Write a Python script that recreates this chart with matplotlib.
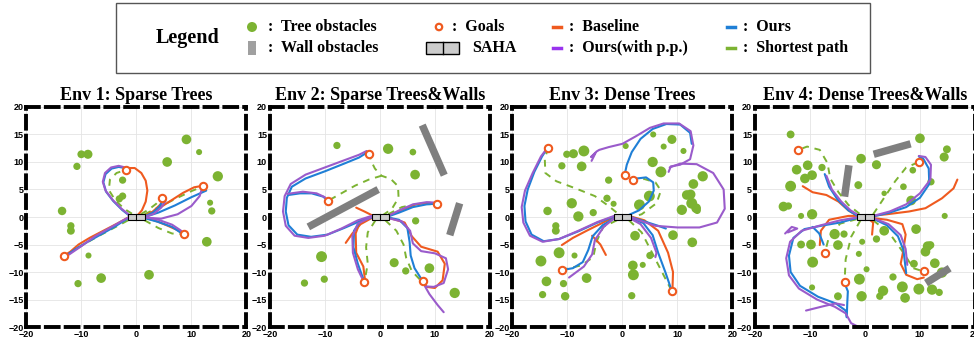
import numpy as np
import matplotlib
matplotlib.use("Agg")
import matplotlib.pyplot as plt
from matplotlib.patches import Circle, Rectangle, Polygon

# ---------------- data ----------------
titles = ["Env 1: Sparse Trees", "Env 2: Sparse Trees&Walls",
          "Env 3: Dense Trees", "Env 4: Dense Trees&Walls"]

# trees: (x, y, radius)
env1_trees = [(9.1, 14.1, 0.8), (11.4, 11.8, 0.5), (-10.0, 11.4, 0.65), (-8.8, 11.4, 0.75),
              (-10.8, 9.2, 0.6), (5.6, 10.0, 0.8), (14.8, 7.4, 0.85), (-2.5, 6.7, 0.6),
              (-2.5, 3.8, 0.6), (-3.1, 3.3, 0.6), (-13.5, 1.1, 0.7), (-11.9, -1.6, 0.6),
              (-11.9, -2.5, 0.65), (13.4, 2.6, 0.5), (13.7, 1.1, 0.6), (12.8, -4.5, 0.8),
              (-8.7, -7.0, 0.5), (-6.4, -11.1, 0.8), (2.3, -10.5, 0.8), (-10.6, -12.1, 0.6)]
env2_trees = [(-7.8, 13.0, 0.6), (1.5, 12.4, 0.85), (6.0, 11.8, 0.55), (6.4, 7.7, 0.8),
              (6.5, -0.7, 0.6), (-10.6, -7.2, 0.9), (2.6, -8.3, 0.75), (4.7, -9.8, 0.6),
              (9.0, -9.3, 0.8), (-10.1, -11.3, 0.6), (-13.7, -12.0, 0.6), (13.6, -13.8, 0.85)]
env3_trees = [(5.6, 15.0, 0.5), (9.0, 14.1, 0.75), (0.6, 12.9, 0.5), (7.5, 12.8, 0.5),
              (11.1, 12.0, 0.5), (-10.1, 11.4, 0.6), (-8.9, 11.5, 0.75), (-7.0, 12.0, 0.9),
              (-11.0, 9.3, 0.6), (-7.4, 9.2, 0.8), (5.5, 10.0, 0.85), (7.0, 8.2, 0.9),
              (12.9, 6.0, 0.8), (14.6, 7.4, 0.85), (-2.5, 6.7, 0.6), (4.9, 3.8, 0.9),
              (3.1, 2.2, 0.9), (11.7, 4.0, 0.8), (12.4, 4.1, 0.8), (12.6, 2.5, 0.9),
              (13.4, 1.6, 0.8), (10.8, 1.3, 0.85), (13.6, 1.2, 0.6), (-9.2, 2.5, 0.85),
              (-2.8, 3.4, 0.6), (-1.6, 2.4, 0.5), (-13.6, 1.1, 0.7), (-8.0, 0.1, 0.85),
              (-5.3, 0.8, 0.6), (-12.1, -1.6, 0.6), (-12.1, -2.5, 0.65), (2.3, -3.4, 0.8),
              (9.2, -3.3, 0.8), (12.7, -4.6, 0.8), (-11.5, -6.5, 0.9), (-8.7, -7.0, 0.5),
              (5.0, -7.0, 0.6), (-14.8, -8.0, 0.9), (1.9, -8.8, 0.8), (3.7, -8.7, 0.5),
              (2.0, -10.5, 0.9), (-6.5, -11.1, 0.8), (-13.8, -11.7, 0.8), (-10.7, -12.1, 0.6),
              (-14.5, -14.1, 0.6), (-10.4, -14.4, 0.7), (1.7, -14.3, 0.6)]
env4_trees = [(-13.5, 15.0, 0.65), (10.0, 14.3, 0.8), (14.9, 12.3, 0.65), (14.4, 10.9, 0.75),
              (-10.4, 9.4, 0.8), (-12.4, 8.6, 0.8), (-7.8, 9.0, 0.6), (-0.7, 10.6, 0.8),
              (2.1, 9.5, 0.75), (-9.6, 7.6, 0.8), (-10.9, 7.0, 0.8), (-13.5, 5.6, 0.9),
              (-1.2, 5.8, 0.65), (3.5, 4.3, 0.45), (7.0, 5.5, 0.55), (8.7, 8.5, 0.55),
              (12.0, 6.4, 0.6), (8.4, 3.0, 0.8), (-14.8, 1.9, 0.8), (-13.9, 2.0, 0.6),
              (-11.6, 0.2, 0.5), (-9.6, 0.5, 0.85), (14.5, 0.2, 0.5), (-5.5, -3.1, 0.85),
              (-3.8, -3.1, 0.6), (-4.9, -5.1, 0.8), (-11.6, -5.0, 0.65), (-9.8, -5.0, 0.8),
              (-9.5, -8.2, 0.9), (-0.5, -4.5, 0.5), (-1.1, -6.7, 0.5), (3.5, -2.5, 0.8),
              (2.1, -4.0, 0.6), (9.3, -2.2, 0.8), (11.4, -5.3, 0.8), (11.9, -5.1, 0.65),
              (11.0, -6.3, 0.8), (8.9, -8.5, 0.65), (12.7, -8.4, 0.8), (0.3, -9.5, 0.5),
              (-1.0, -11.3, 0.9), (5.1, -10.9, 0.6), (6.8, -12.7, 0.9), (9.8, -13.1, 0.9),
              (12.2, -13.2, 0.85), (3.3, -13.4, 0.85), (-0.6, -14.4, 0.85), (2.7, -14.4, 0.6),
              (7.3, -14.7, 0.8), (-4.9, -14.4, 0.65), (-9.6, -12.8, 0.5), (14.0, -10.1, 0.85),
              (13.5, -13.7, 0.6)]

# walls: (x1, y1, x2, y2, thickness)
env1_walls = []
env2_walls = [(-13.0, -1.8, -0.3, 5.0, 1.35), (7.7, 16.7, 11.7, 7.6, 1.35), (14.5, 2.5, 12.7, -3.3, 1.35)]
env3_walls = []
env4_walls = [(1.6, 11.4, 8.3, 13.3, 1.35), (-2.9, 9.4, -3.7, 3.7, 1.35), (11.1, -12.0, 15.4, -9.3, 1.35)]

env1_goals = [(-1.8, 8.6), (4.6, 3.5), (12.2, 5.6), (8.7, -3.1), (-13.1, -7.1)]
env2_goals = [(-1.9, 11.5), (-9.5, 2.9), (10.4, 2.3), (-2.8, -11.8), (7.9, -11.6)]
env3_goals = [(-13.5, 12.6), (0.4, 7.6), (1.9, 6.7), (-11.0, -9.6), (9.0, -13.5)]
env4_goals = [(-12.1, 12.2), (9.8, 10.0), (-7.3, -6.6), (-3.7, -11.9), (10.7, -9.9)]

# ---- env 1 paths ----
env1_shortest = [
    [(-0.8, 0.6), (-2.2, 1.5), (-3.8, 3.0), (-5.0, 4.9), (-4.8, 6.8), (-3.6, 8.0), (-1.8, 8.6)],
    [(0.8, 0.5), (2.3, 1.4), (3.6, 2.4), (4.6, 3.5)],
    [(1.5, 0.5), (4.5, 2.0), (7.5, 3.5), (10.0, 4.7), (12.2, 5.6)],
    [(1.5, -0.6), (4.0, -2.0), (6.5, -3.0), (8.7, -3.1)],
    [(-1.5, -0.6), (-4.5, -2.2), (-7.5, -3.8), (-10.5, -5.5), (-13.1, -7.1)]]
env1_baseline = [
    [(0.2, 0.3), (1.0, 1.2), (1.7, 2.8), (2.0, 4.8), (1.7, 6.6), (0.9, 8.0), (-0.3, 8.9), (-1.3, 8.9), (-1.8, 8.6)],
    [(1.5, 0.2), (3.0, 1.0), (4.3, 2.2), (5.1, 3.3)],
    [(1.5, 0.1), (3.5, 1.2), (6.0, 2.8), (8.5, 4.4), (10.5, 5.4), (12.2, 5.7)],
    [(1.5, -0.1), (3.5, -0.7), (5.5, -1.5), (7.3, -2.3), (8.5, -3.0)],
    [(-1.5, -0.1), (-3.5, -1.2), (-6.0, -2.5), (-8.5, -3.8), (-10.5, -5.0), (-12.0, -6.3), (-13.1, -7.0)]]
env1_ours = [
    [(-1.2, 0.2), (-2.6, 1.3), (-4.2, 2.9), (-5.5, 4.6), (-6.0, 6.3), (-5.6, 7.8), (-4.5, 8.8), (-3.2, 9.1), (-2.1, 8.9)],
    [(1.5, 0.1), (3.0, 0.8), (4.2, 1.9), (4.9, 3.1)],
    [(1.5, 0.0), (4.0, 0.8), (7.0, 2.1), (10.0, 3.6), (12.7, 4.8)],
    [(1.5, -0.2), (4.0, -0.9), (6.5, -1.8), (8.0, -2.8), (8.4, -3.2)],
    [(-1.5, -0.2), (-4.0, -1.8), (-6.5, -3.2), (-9.0, -4.6), (-11.3, -6.0), (-12.6, -6.9)]]
env1_ours_pp = [
    [(-1.2, 0.3), (-2.7, 1.5), (-4.3, 3.1), (-5.6, 4.8), (-6.1, 6.4), (-5.7, 8.0), (-4.6, 9.0), (-3.2, 9.3), (-2.0, 9.0)],
    [(1.5, 0.0), (3.2, 0.6), (4.5, 1.7), (5.3, 2.9)],
    [(1.5, -0.1), (4.5, -0.3), (7.5, 0.5), (10.0, 2.0), (11.5, 3.8), (11.9, 5.1)],
    [(1.5, 0.0), (4.0, -0.5), (6.5, -1.4), (8.0, -2.4), (8.6, -2.9)],
    [(-1.5, -0.1), (-4.5, -1.8), (-7.5, -3.5), (-10.0, -5.3), (-12.2, -6.8), (-13.0, -7.2)]]

# ---- env 2 paths ----
env2_shortest = [
    [(0.5, 0.3), (2.2, 1.5), (3.4, 3.5), (3.3, 5.6), (2.0, 6.9), (0.3, 7.5), (-0.9, 8.8), (-1.6, 10.2), (-1.9, 11.5)],
    [(0.3, 7.5), (-2.0, 6.8), (-4.5, 5.7), (-7.0, 4.3), (-9.5, 2.9)],
    [(1.5, 0.5), (4.0, 1.8), (7.0, 2.4), (10.4, 2.3)],
    [(1.0, -0.6), (3.0, -2.5), (4.3, -5.0), (4.8, -7.5), (5.8, -9.8), (7.5, -11.6)],
    [(-0.8, -0.6), (-2.2, -2.8), (-2.5, -5.5), (-2.2, -8.5), (-2.8, -11.8)]]
env2_baseline = [
    [(-1.4, 0.3), (-2.8, 1.0), (-4.3, 1.7)],
    [(-1.5, -0.2), (-3.5, -1.3), (-5.0, -3.0), (-6.2, -4.7)],
    [(1.5, 0.2), (4.0, 1.3), (6.5, 2.3), (9.0, 2.6), (10.4, 2.3)],
    [(-1.2, 0.0), (-3.5, -0.6), (-4.4, -3.0), (-4.3, -6.5), (-3.0, -9.0), (-2.7, -11.5)],
    [(1.5, -0.1), (4.5, -1.0), (5.8, -3.5), (7.5, -5.4), (10.5, -6.3), (11.8, -8.5), (11.4, -11.5),
     (10.0, -12.9), (8.5, -12.7), (7.9, -11.8)]]
env2_ours = [
    [(-1.5, 0.1), (-3.5, -0.7), (-6.5, -2.0), (-9.5, -3.2), (-12.5, -3.6), (-15.0, -3.2), (-16.6, -1.5),
     (-17.1, 1.0), (-16.9, 3.5), (-16.0, 5.5), (-13.5, 7.0), (-10.0, 8.3), (-6.5, 9.7), (-3.8, 10.8), (-2.2, 11.8)],
    [(-16.6, 4.0), (-14.5, 4.3), (-12.4, 4.3), (-10.3, 3.7), (-9.6, 3.1)],
    [(1.5, 0.1), (3.5, 0.8), (6.0, 1.8), (8.5, 2.3), (10.0, 2.4)],
    [(1.5, -0.1), (3.5, -0.5), (5.0, -2.0), (5.4, -4.5), (5.6, -7.0), (6.3, -9.3), (7.5, -11.2)],
    [(-1.5, -0.1), (-3.5, -0.7), (-4.7, -2.5), (-4.8, -5.5), (-4.0, -8.5), (-3.0, -11.3)]]
env2_ours_pp = [
    [(-1.5, 0.2), (-4.0, -0.6), (-7.0, -2.1), (-10.0, -3.4), (-13.0, -3.8), (-15.5, -3.4), (-17.1, -1.6),
     (-17.6, 1.0), (-17.3, 3.8), (-16.2, 6.0), (-13.5, 7.7), (-10.0, 9.0), (-6.5, 10.3), (-3.8, 11.3), (-2.4, 12.0)],
    [(-16.8, 4.2), (-14.0, 4.6), (-11.5, 4.3), (-10.0, 3.6), (-9.6, 3.0)],
    [(1.5, 0.2), (3.5, 1.2), (6.0, 2.3), (8.5, 2.7), (10.3, 2.6)],
    [(1.5, -0.2), (4.0, -0.8), (5.5, -2.5), (6.0, -4.8), (7.5, -6.2), (10.0, -6.6), (12.0, -7.5), (12.4, -9.5),
     (11.6, -12.0), (9.8, -12.7), (8.2, -12.6), (9.0, -14.0), (10.5, -16.0), (11.6, -17.3)],
    [(-1.5, 0.0), (-4.0, -1.2), (-5.0, -3.5), (-4.9, -6.5), (-4.0, -9.5), (-3.0, -11.6)]]

# ---- env 3 paths ----
env3_shortest = [
    [(-13.5, 12.6), (-14.1, 10.5), (-14.0, 8.0), (-12.0, 6.5), (-8.5, 5.2), (-5.0, 3.8), (-2.5, 2.0), (-0.8, 0.6)],
    [(0.8, -0.3), (3.5, 0.5), (6.2, 2.5), (7.0, 4.8), (6.0, 6.3), (4.0, 6.9), (1.9, 6.7)],
    [(-1.0, -0.6), (-3.5, -1.8), (-4.7, -4.5), (-5.3, -7.3), (-7.5, -8.8), (-11.0, -9.6)],
    [(1.2, -0.6), (3.5, -2.8), (5.4, -6.5), (7.2, -10.0), (9.0, -13.5)]]
env3_baseline = [
    [(-1.0, 0.2), (-3.5, -1.0), (-6.5, -2.5), (-9.0, -3.8), (-11.0, -5.1)],
    [(-5.5, -3.4), (-4.0, -5.0), (-3.0, -6.9)],
    [(-2.3, -0.3), (0.0, 0.3), (1.5, 0.1), (4.0, -0.6), (6.5, -2.5), (8.3, -6.5), (9.2, -10.0), (9.1, -13.2)]]
env3_ours = [
    [(-1.5, 0.1), (-4.5, -1.0), (-8.0, -2.6), (-11.5, -4.0), (-14.3, -4.4), (-16.5, -3.2), (-17.6, -0.8),
     (-17.8, 2.0), (-17.2, 5.0), (-16.0, 8.2), (-14.6, 11.0), (-13.7, 12.4)],
    [(0.4, 7.6), (0.8, 9.5), (1.7, 11.8), (3.3, 14.2), (5.5, 16.0), (8.0, 16.9), (10.5, 16.8), (12.3, 15.3), (12.6, 13.3)],
    [(0.8, 0.2), (3.0, 1.2), (4.8, 2.8), (5.7, 4.8), (5.6, 6.3), (4.3, 7.2), (2.6, 7.0)],
    [(1.5, 0.0), (4.0, -0.8), (6.5, -1.6), (7.9, -2.1)],
    [(-1.2, -0.1), (-3.6, -1.5), (-5.4, -3.5), (-6.2, -6.0), (-7.2, -8.2), (-9.0, -9.3), (-10.7, -9.6)],
    [(1.5, -0.2), (3.8, -1.1), (5.5, -3.3), (6.5, -6.5), (7.8, -10.0), (8.9, -13.2)]]
env3_ours_pp = [
    [(-1.5, 0.2), (-4.5, -0.9), (-8.0, -2.5), (-11.5, -4.0), (-14.5, -4.5), (-16.8, -3.4), (-18.0, -1.0),
     (-18.3, 1.8), (-17.7, 4.8), (-16.3, 8.0), (-14.8, 11.0), (-13.6, 12.6)],
    [(-5.6, 10.2), (-4.9, 11.6), (-5.7, 10.9), (-4.7, 11.9), (-4.2, 12.2), (-2.5, 12.7), (0.0, 13.3), (2.5, 14.7),
     (5.0, 16.2), (7.5, 17.0), (10.3, 17.0), (12.4, 15.6), (12.9, 13.0), (12.3, 10.5), (10.5, 9.5), (8.8, 9.2), (8.4, 8.2)],
    [(8.6, 9.0), (10.5, 9.7), (13.5, 9.6), (16.5, 8.0), (18.4, 5.0), (18.6, 1.5), (17.2, -1.0), (14.0, -1.9),
     (10.0, -1.9), (6.0, -1.6), (3.0, -0.6), (1.5, 0.0)],
    [(-1.2, 0.0), (-3.4, -1.8), (-5.0, -4.2), (-5.5, -6.8), (-7.0, -9.0), (-9.7, -11.0)],
    [(1.3, -0.2), (3.3, -1.3), (5.2, -3.8), (6.2, -6.5), (6.0, -7.3)]]

# ---- env 4 paths ----
env4_shortest = [
    [(-1.0, 0.6), (-3.0, 2.2), (-4.8, 4.5), (-6.3, 7.0), (-6.8, 9.8), (-8.2, 12.2), (-10.5, 12.8), (-12.1, 12.2)],
    [(1.5, 0.5), (3.5, 3.5), (5.5, 6.5), (7.5, 9.0), (9.8, 10.0)],
    [(-1.5, -0.4), (-4.5, -1.2), (-6.5, -3.5), (-7.3, -6.6)],
    [(-0.8, -0.6), (-2.5, -3.6), (-3.5, -7.7), (-3.7, -11.9)],
    [(1.5, -0.6), (4.5, -3.0), (7.0, -6.5), (8.8, -9.3), (10.7, -9.9)]]
env4_baseline = [
    [(-11.3, 5.6), (-9.5, 4.5), (-7.0, 4.0), (-4.8, 2.8), (-3.0, 1.2), (-1.5, 0.3), (1.0, 0.2), (4.0, 0.5),
     (8.0, 1.0), (11.0, 1.6), (14.0, 3.4), (16.1, 5.2), (16.8, 6.8)],
    [(-8.2, -5.1), (-8.0, -2.5), (-6.5, -0.5), (-3.0, 0.2), (0.0, 0.2), (1.5, -1.0), (1.3, -3.2)],
    [(1.5, -0.2), (4.0, -0.5), (6.8, -1.3), (7.4, -3.2), (6.9, -6.5), (6.5, -8.5), (7.5, -10.5), (9.5, -11.3), (10.7, -11.0)]]
env4_ours = [
    [(-7.3, 7.8), (-6.5, 5.5), (-5.0, 3.2), (-3.0, 1.2), (-1.5, 0.3)],
    [(1.5, 0.1), (4.5, 0.8), (7.5, 1.8), (10.0, 3.5), (11.7, 6.0), (11.6, 8.8), (10.6, 10.6), (9.8, 11.0)],
    [(1.5, -0.3), (4.0, -1.5), (6.0, -3.5), (7.0, -6.0), (7.3, -8.5), (7.5, -10.2)],
    [(-1.5, -0.2), (-4.5, -1.0), (-8.0, -1.6), (-11.0, -2.2), (-13.0, -3.8), (-13.8, -7.0), (-13.5, -10.0),
     (-11.8, -12.5), (-8.5, -14.5), (-5.3, -15.7), (-3.5, -17.0), (-3.3, -18.2)],
    [(-9.5, -1.8), (-8.3, -3.0), (-7.5, -5.0)],
    [(-3.3, -18.2), (-3.2, -15.5), (-3.1, -13.5), (-3.5, -12.5)]]
env4_ours_pp = [
    [(-7.0, 7.5), (-6.0, 5.0), (-4.3, 2.8), (-2.6, 1.2), (-1.3, 0.4)],
    [(1.5, 0.2), (4.5, 1.0), (7.5, 2.3), (10.0, 4.3), (11.9, 6.8), (12.0, 9.5), (11.0, 10.9), (9.8, 11.1)],
    [(1.5, -0.2), (4.3, -1.3), (6.5, -3.3), (7.4, -5.8), (7.7, -8.7)],
    [(-1.5, -0.1), (-4.5, -0.6), (-8.0, -1.5), (-11.5, -2.5), (-13.6, -4.5), (-14.3, -7.5), (-13.8, -10.6),
     (-12.0, -13.0), (-8.7, -15.0), (-5.5, -16.3), (-3.5, -17.5), (-2.5, -19.3), (-1.1, -20.0)],
    [(-14.5, -3.0), (-13.3, -1.8), (-12.3, -2.1), (-14.0, -2.8)],
    [(-10.7, -17.0), (-7.5, -16.2), (-5.3, -15.7), (-3.8, -16.0)]]

env_trees = [env1_trees, env2_trees, env3_trees, env4_trees]
env_walls = [env1_walls, env2_walls, env3_walls, env4_walls]
env_goals = [env1_goals, env2_goals, env3_goals, env4_goals]
env_shortest = [env1_shortest, env2_shortest, env3_shortest, env4_shortest]
env_baseline = [env1_baseline, env2_baseline, env3_baseline, env4_baseline]
env_ours = [env1_ours, env2_ours, env3_ours, env4_ours]
env_ours_pp = [env1_ours_pp, env2_ours_pp, env3_ours_pp, env4_ours_pp]

# ---------------- style ----------------
c_tree = '#7cb332'
c_wall = '#7f7f7f'
c_base = '#ef5a1f'
c_ours = '#1f7fd6'
c_pp = '#9a5bcb'
c_short = '#7cb332'
serif = ['Liberation Serif', 'DejaVu Serif']
sans = ['Liberation Sans', 'DejaVu Sans']

fig = plt.figure(figsize=(9.74, 3.45), dpi=100)
lefts = [0.027, 0.277, 0.526, 0.775]


def draw_lines(ax, paths, color, **kw):
    for p in paths:
        p = np.array(p)
        ax.plot(p[:, 0], p[:, 1], color=color, solid_capstyle='round',
                solid_joinstyle='round', **kw)


for i in range(4):
    ax = fig.add_axes([lefts[i], 0.052, 0.226, 0.638])
    ax.set_xlim(-20, 20)
    ax.set_ylim(-20, 20)
    ax.set_xticks([-20, -10, 0, 10, 20])
    ax.set_yticks(np.arange(-20, 21, 5))
    ax.grid(True, color='#e4e4e4', lw=0.6)
    ax.set_axisbelow(True)
    ax.tick_params(length=0, pad=2, labelsize=6.5)
    for lab in ax.get_xticklabels() + ax.get_yticklabels():
        lab.set_fontweight('bold')
        lab.set_family(sans)
    for s in ax.spines.values():
        s.set_linestyle((0, (3.3, 1.8)))
        s.set_linewidth(2.8)
        s.set_zorder(10)
    ax.set_title(titles[i], family=serif, fontweight='bold', fontsize=13, pad=5)

    for (x, y, r) in env_trees[i]:
        ax.add_patch(Circle((x, y), r * 1.1, color=c_tree, lw=0, zorder=2))
    for (x1, y1, x2, y2, w) in env_walls[i]:
        d = np.array([x2 - x1, y2 - y1])
        n = np.array([-d[1], d[0]]) / np.hypot(*d) * w / 2
        pts = [(x1 + n[0], y1 + n[1]), (x2 + n[0], y2 + n[1]),
               (x2 - n[0], y2 - n[1]), (x1 - n[0], y1 - n[1])]
        ax.add_patch(Polygon(pts, closed=True, color=c_wall, lw=0, zorder=2))

    draw_lines(ax, env_shortest[i], c_short, lw=1.4, ls=(0, (3.5, 3)), zorder=3)
    draw_lines(ax, env_baseline[i], c_base, lw=1.5, zorder=4)
    draw_lines(ax, env_ours[i], c_ours, lw=1.5, zorder=5)
    draw_lines(ax, env_ours_pp[i], c_pp, lw=1.5, zorder=6)

    g = np.array(env_goals[i])
    ax.scatter(g[:, 0], g[:, 1], s=28, facecolors='white', edgecolors=c_base,
               linewidths=1.5, zorder=8)
    ax.add_patch(Rectangle((-1.5, -0.6), 3.1, 1.15, fc='#cccccc', ec='k', lw=0.8, zorder=7))
    ax.plot([0, 0], [-0.6, 0.55], color='k', lw=0.8, zorder=7)

# ---------------- legend box (pixel coordinates overlay) ----------------
lg = fig.add_axes([0, 0, 1, 1])
lg.set_xlim(0, 974)
lg.set_ylim(345, 0)
lg.axis('off')
lg.add_patch(Rectangle((116, 3), 754, 70, fill=False, ec='#555555', lw=1.0))
lg.text(188, 38, 'Legend', family=serif, fontweight='bold', fontsize=14.5, ha='center', va='center')
r1, r2 = 27, 48
fs = 11.5
lg.add_patch(Circle((252, r1), 5, color=c_tree, lw=0))
lg.add_patch(Rectangle((248, r2 - 7), 8, 14, color='#a0a0a0', lw=0))
lg.text(268, r1, ':  Tree obstacles', family=serif, fontweight='bold', fontsize=fs, va='center')
lg.text(268, r2, ':  Wall obstacles', family=serif, fontweight='bold', fontsize=fs, va='center')
lg.add_patch(Circle((439, r1), 3.2, fc='white', ec=c_base, lw=1.6))
lg.text(452, r1, ':  Goals', family=serif, fontweight='bold', fontsize=fs, va='center')
lg.add_patch(Rectangle((426, r2 - 6), 33, 12, fc='#cccccc', ec='k', lw=1.0))
lg.plot([442.5, 442.5], [r2 - 6, r2 + 6], color='k', lw=1.0)
lg.text(472, r2, 'SAHA', family=serif, fontweight='bold', fontsize=fs, va='center')
for xx, yy, col, lab in [(557, r1, c_base, 'Baseline'), (557, r2, '#9933ee', 'Ours(with p.p.)'),
                         (731, r1, c_ours, 'Ours'), (731, r2, c_short, 'Shortest path')]:
    lg.plot([xx - 4, xx + 4], [yy, yy], color=col, lw=2.5)
    lg.text(xx + 12, yy, ':  ' + lab, family=serif, fontweight='bold', fontsize=fs, va='center')

fig.savefig('out.png', dpi=100)
